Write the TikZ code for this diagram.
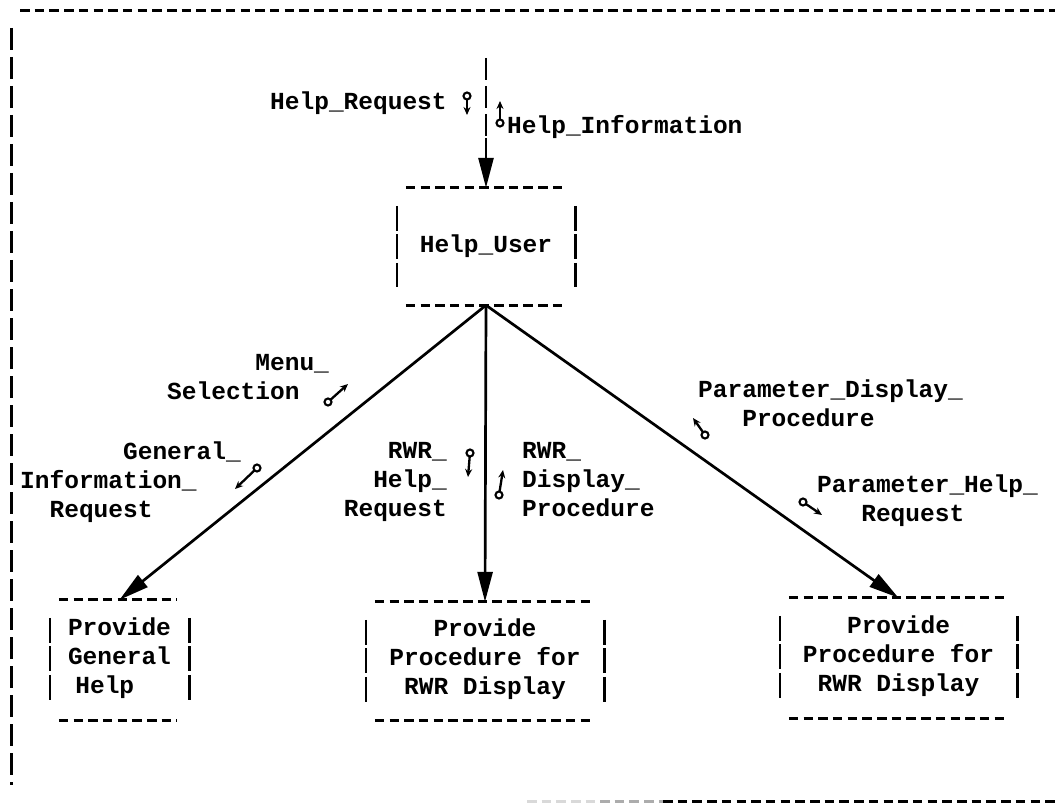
\documentclass[tikz,border=0pt]{standalone}
\usepackage{fontspec}
\setmonofont{Liberation Mono}
\usetikzlibrary{arrows.meta}
\begin{document}
\begin{tikzpicture}[x=1pt,y=-1pt,
  lbl/.style={font=\fontsize{24.5}{29}\selectfont\ttfamily\bfseries, inner sep=0pt, execute at begin node=\strut},
  boxn/.style={lbl, align=center},
  hdash/.style={line width=3pt, dash pattern=on 9.5pt off 5.2pt},
  vbar/.style={line width=2.6pt, dash pattern=on 25pt off 3.5pt},
  lbar/.style={line width=3pt, dash pattern=on 22pt off 7pt},
  flow/.style={line width=2.7pt, -{Triangle[length=30pt,width=15pt]}},
  couple/.style={line width=2.3pt, shorten <=3.8pt, -{Stealth[length=8pt,width=7pt]}},
  ring/.style={line width=2.1pt}
]
\useasboundingbox (0,0) rectangle (1055,805);

% outer frame
\draw[hdash] (20,11) -- (1055,11);
\draw[lbar] (11,28) -- (11,785);
\draw[hdash, gray!30] (527,801) -- (600,801);
\draw[hdash, gray!65] (600,801) -- (663,801);
\draw[hdash] (663,801) -- (1055,801);

% boxes
\node[boxn, minimum width=178pt, minimum height=117pt] (hu) at (486,246.5) {Help\_User};
\node[boxn, minimum width=139pt, minimum height=120pt] (gh) at (119.5,660) {Provide\\General\\Help\phantom{xx}};
\node[boxn, minimum width=238pt, minimum height=118pt] (rd) at (485,661) {Provide\\Procedure for\\RWR Display};
\node[boxn, minimum width=237pt, minimum height=120pt] (pd) at (898.5,658) {Provide\\Procedure for\\RWR Display};

\foreach \b in {hu,gh,rd,pd}{
  \draw[hdash] ([xshift=9pt]\b.north west) -- ([xshift=-12pt]\b.north east);
  \draw[hdash] ([xshift=9pt]\b.south west) -- ([xshift=-12pt]\b.south east);
  \draw[vbar] ([yshift=-18pt]\b.north west) -- ([yshift=18pt]\b.south west);
  \draw[vbar] ([yshift=-18pt]\b.north east) -- ([yshift=18pt]\b.south east);
}

% connectors
\coordinate (src) at (486,58);
\coordinate (srcb) at (486,138);
\draw[line width=2.6pt, dash pattern=on 22pt off 6pt] (src) -- (srcb);
\draw[flow] (srcb) -- (hu.north);
\draw[flow] (hu.south) -- (gh.north);
\draw[flow] (hu.south) -- (rd.north);
\draw[flow] (hu.south) -- (pd.north);

% labels
\node[lbl, anchor=west] (lhr) at (270,104) {Help\_Request};
\node[lbl, anchor=west] (lhi) at (507,128) {Help\_Information};
\node[lbl, anchor=north west, align=left] (lms) at (167,354) {\phantom{XXXXXX}Menu\_\\Selection};
\node[lbl, anchor=north west, align=left] (lgi) at (20,442) {\phantom{XXXXXXX}General\_\\Information\_\\\phantom{XX}Request};
\node[lbl, anchor=north east, align=right] (lrh) at (447,442) {RWR\_\\Help\_\\Request};
\node[lbl, anchor=north west, align=left] (lrd) at (522,442) {RWR\_\\Display\_\\Procedure};
\node[lbl, anchor=north west, align=left] (lpd) at (698,380) {Parameter\_Display\_\\\phantom{XXX}Procedure};
\node[lbl, anchor=north west, align=left] (lph) at (817,475) {Parameter\_Help\_\\\phantom{XXX}Request};

% data couples
\foreach \cx/\cy/\tx/\ty in {467/96/467/115, 500/123/500/101, 328/402/348/384, 257/468/235/489,
  470/453/468/477, 499/495/503/470, 705/435/693/418, 803/502/822/515}{
  \draw[ring] (\cx,\cy) circle (3.5pt);
  \draw[couple] (\cx,\cy) -- (\tx,\ty);
}
\end{tikzpicture}
\end{document}
